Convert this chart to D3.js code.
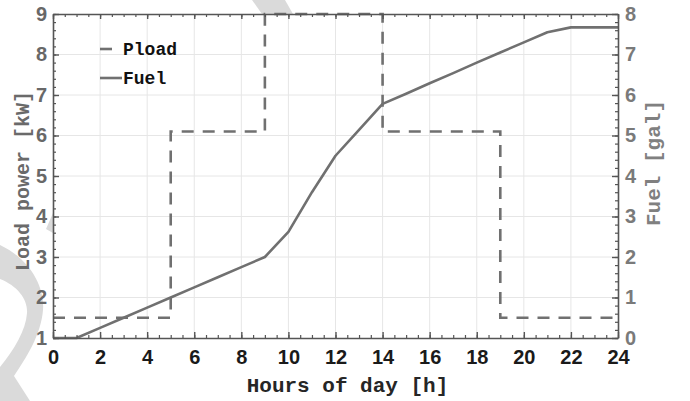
<!DOCTYPE html>
<html>
<head>
<meta charset="utf-8">
<script src="https://cdn.jsdelivr.net/npm/d3@7"></script>
<style>
  html, body { margin: 0; padding: 0; background: #fff; }
  svg { display: block; }
</style>
</head>
<body>
<svg id="chart" width="690" height="401"></svg>
<script>
// Hourly load profile (step levels, kW) — each level holds until the next hour listed
const loadHours = [0, 5, 9, 14, 19, 24];
const loadKW    = [1.5, 6.1, 9, 6.1, 1.5, 1.5];

// Cumulative fuel consumption (gal) per hour of day
const fuelHours = [0, 1, 2, 3, 4, 5, 6, 7, 8, 9, 10, 11, 12, 13, 14, 15, 16, 17, 18, 19, 20, 21, 22, 23, 24];
const fuelGal   = [0, 0, 0.25, 0.5, 0.75, 1.0, 1.25, 1.5, 1.75, 2.0, 2.62, 3.6, 4.5, 5.14, 5.78, 6.03, 6.29, 6.54, 6.8, 7.05, 7.3, 7.55, 7.67, 7.67, 7.67];

// Tick values
const xTicks      = [0, 2, 4, 6, 8, 10, 12, 14, 16, 18, 20, 22, 24];
const leftTicks   = [1, 2, 3, 4, 5, 6, 7, 8, 9];
const rightTicks  = [0, 1, 2, 3, 4, 5, 6, 7, 8];

const legendItems = ["Pload", "Fuel"];

const svg = d3.select("#chart");
const L = 53, R = 618, T = 14, B = 338;

const x  = d3.scaleLinear().domain([0, 24]).range([L, R]);
const yL = d3.scaleLinear().domain([1, 9]).range([B, T]);
const yR = d3.scaleLinear().domain([0, 8]).range([B, T]);

const lineGray = "#707070";
const axisGray = "#555";
const gridGray = "#e6e6e6";

// light background emblem behind the axes
const emb = svg.append("g").attr("fill", "#dadada");
emb.append("path")
  .attr("fill-rule", "evenodd")
  .attr("d", "M0,245 C28,258 45,285 43,310 C41,335 26,358 14,376 L30,401 L0,401 Z " +
             "M0,279 C18,286 28,300 27,313 C26,330 14,350 0,367 Z");
emb.append("path").attr("d", "M53,213 L46,229 L53,233 Z");
emb.append("path").attr("d", "M252,0 L285,0 L293,14 L262,14 Z");

// plot background
svg.append("rect").attr("x", L).attr("y", T).attr("width", R - L).attr("height", B - T).attr("fill", "#fff");

// grid
const grid = svg.append("g").attr("stroke", gridGray).attr("stroke-width", 1);
grid.selectAll(".gx").data(xTicks.slice(1, -1)).join("line")
  .attr("x1", d => x(d)).attr("x2", d => x(d)).attr("y1", T).attr("y2", B);
grid.selectAll(".gy").data(leftTicks.slice(1, -1)).join("line")
  .attr("x1", L).attr("x2", R).attr("y1", d => yL(d)).attr("y2", d => yL(d));

// data lines
const loadLine = d3.line().x((d, i) => x(loadHours[i])).y(d => yL(d)).curve(d3.curveStepAfter);
svg.append("path").datum(loadKW)
  .attr("d", loadLine)
  .attr("fill", "none").attr("stroke", lineGray).attr("stroke-width", 2.6)
  .attr("stroke-dasharray", "12,9");

const fuelLine = d3.line().x((d, i) => x(fuelHours[i])).y(d => yR(d));
svg.append("path").datum(fuelGal)
  .attr("d", fuelLine)
  .attr("fill", "none").attr("stroke", lineGray).attr("stroke-width", 2.6)
  .attr("stroke-linejoin", "round");

// axes
function styleAxis(g, labelColor, font) {
  g.select(".domain").attr("stroke", axisGray).attr("stroke-width", 1.6);
  g.selectAll(".tick line").attr("stroke", axisGray).attr("stroke-width", 1.4);
  g.selectAll(".tick text").attr("fill", labelColor)
    .style("font-family", font).style("font-weight", "bold").style("font-size", "20px");
}
const minor = (lo, hi, step) => d3.range(lo, hi + 1e-9, step);

// minor ticks
const mx = minor(0, 24, 0.5), myL = minor(1, 9, 0.2), myR = minor(0, 8, 0.2);
[
  svg.append("g").attr("transform", `translate(0,${B})`).call(d3.axisBottom(x).tickValues(mx).tickSize(-3).tickFormat("")),
  svg.append("g").attr("transform", `translate(0,${T})`).call(d3.axisTop(x).tickValues(mx).tickSize(-3).tickFormat("")),
  svg.append("g").attr("transform", `translate(${L},0)`).call(d3.axisLeft(yL).tickValues(myL).tickSize(-3).tickFormat("")),
  svg.append("g").attr("transform", `translate(${R},0)`).call(d3.axisRight(yR).tickValues(myR).tickSize(-3).tickFormat(""))
].forEach(g => { g.select(".domain").remove(); g.selectAll(".tick line").attr("stroke", axisGray).attr("stroke-width", 1.2); });

const sans = "'Liberation Sans', Arial, Helvetica, sans-serif";
const mono = "'Liberation Mono', 'Courier New', monospace";

const gx = svg.append("g").attr("transform", `translate(0,${B})`)
  .call(d3.axisBottom(x).tickValues(xTicks).tickSize(-6).tickSizeOuter(0).tickPadding(12).tickFormat(d3.format("d")));
styleAxis(gx, "#1a1a1a", sans);

const gt = svg.append("g").attr("transform", `translate(0,${T})`)
  .call(d3.axisTop(x).tickValues(xTicks).tickSize(-5).tickSizeOuter(0).tickFormat(""));
styleAxis(gt, "#000", sans);

const gl = svg.append("g").attr("transform", `translate(${L},0)`)
  .call(d3.axisLeft(yL).tickValues(leftTicks).tickSize(-6).tickSizeOuter(0).tickPadding(6).tickFormat(d3.format("d")));
styleAxis(gl, "#686868", sans);

const gr = svg.append("g").attr("transform", `translate(${R},0)`)
  .call(d3.axisRight(yR).tickValues(rightTicks).tickSize(-6).tickSizeOuter(0).tickPadding(7).tickFormat(d3.format("d")));
styleAxis(gr, "#7a7a7a", sans);

// axis titles
svg.append("text").attr("x", (L + R) / 2 + 12).attr("y", 392)
  .attr("text-anchor", "middle").attr("fill", "#262626")
  .style("font-family", mono).style("font-weight", "bold").style("font-size", "21px")
  .text("Hours of day [h]");

svg.append("text").attr("transform", "translate(29,181) rotate(-90)")
  .attr("text-anchor", "middle").attr("fill", "#6a6a6a")
  .style("font-family", mono).style("font-weight", "bold").style("font-size", "20px")
  .text("Load power [kW]");

svg.append("text").attr("transform", "translate(660,163) rotate(-90)")
  .attr("text-anchor", "middle").attr("fill", "#808080")
  .style("font-family", mono).style("font-weight", "bold").style("font-size", "21px")
  .text("Fuel [gal]");

// legend
const leg = svg.append("g");
const legY = [49, 78];
leg.append("line").attr("x1", 100).attr("x2", 121).attr("y1", legY[0]).attr("y2", legY[0])
  .attr("stroke", lineGray).attr("stroke-width", 2.6).attr("stroke-dasharray", "12,9");
leg.append("line").attr("x1", 100).attr("x2", 122).attr("y1", legY[1]).attr("y2", legY[1])
  .attr("stroke", lineGray).attr("stroke-width", 2.6);
leg.selectAll("text").data(legendItems).join("text")
  .attr("x", 123).attr("y", (d, i) => legY[i] + 6)
  .attr("fill", "#111")
  .style("font-family", mono).style("font-weight", "bold").style("font-size", "18px")
  .text(d => d);
</script>
</body>
</html>
